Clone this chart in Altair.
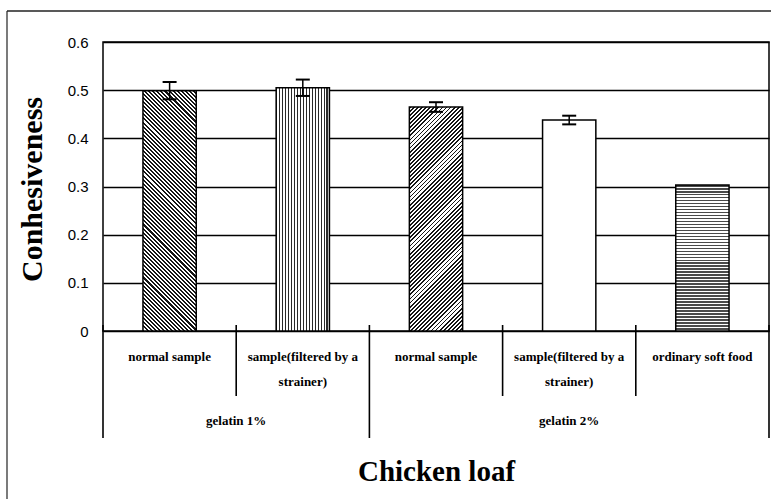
import math
import altair as alt
import pandas as pd

# ---------------- data ----------------
keys = ["g1_normal", "g1_strained", "g2_normal", "g2_strained", "ordinary"]
labels = ["normal sample", "sample(filtered by a|strainer)", "normal sample",
          "sample(filtered by a|strainer)", "ordinary soft food"]
groups = ["gelatin 1%", "gelatin 1%", "gelatin 2%", "gelatin 2%", "gelatin 2%"]
values = [0.499, 0.505, 0.465, 0.438, 0.303]
errors = [0.018, 0.017, 0.010, 0.009, 0.0]
y_ticks = [0, 0.1, 0.2, 0.3, 0.4, 0.5, 0.6]
y_title = "Conhesiveness"
x_title = "Chicken loaf"

# ---------------- layout / style ----------------
W, H = 666, 289
Y_MAX = 0.6
N = len(keys)
BAR_FRAC = 0.4
SERIF = "Liberation Serif"
SANS = "Liberation Sans"

df = pd.DataFrame({"key": keys, "label": labels, "group": groups,
                   "value": values, "err": errors})
df["idx"] = range(N)
df["x0"] = df["idx"] + 0.5 - BAR_FRAC / 2
df["x1"] = df["idx"] + 0.5 + BAR_FRAC / 2
df["xc"] = df["idx"] + 0.5
df["lo"] = df["value"] - df["err"]
df["hi"] = df["value"] + df["err"]
cap_half = 7 / (W / N)
df["c0"] = df["xc"] - cap_half
df["c1"] = df["xc"] + cap_half

# divider positions between categories (long where a new group starts)
bounds = []
for i in range(N):
    kind = "long" if (i == 0 or groups[i] != groups[i - 1]) else "short"
    bounds.append({"pos": i, "kind": kind})
bounds.append({"pos": N, "kind": "long"})
bdf = pd.DataFrame(bounds)

# group label centres
gdf = (df.groupby("group", sort=False)["idx"].agg(["min", "max"]).reset_index())
gdf["gc"] = (gdf["min"] + gdf["max"] + 1) / 2


def stops_for(n, frac, dark, light="#ffffff"):
    st = []
    for i in range(n):
        o0 = round(i / n, 6)
        o1 = round((i + frac) / n, 6)
        o2 = round((i + 1) / n, 6)
        st += [{"offset": o0, "color": dark}, {"offset": o1, "color": dark},
               {"offset": o1, "color": light}, {"offset": o2, "color": light}]
    return st


def diag(w, h, period, frac, direction, dark="#161616"):
    k = (w + h) / (w * w + h * h)
    a, b = k * w, k * h
    n = max(1, round((w + h) / math.sqrt(2) / period))
    if direction == "fwd":
        x1, y1, x2, y2 = 0, 0, a, b
    else:
        x1, y1, x2, y2 = 0, 1, a, 1 - b
    return {"gradient": "linear", "x1": x1, "y1": y1, "x2": x2, "y2": y2,
            "stops": stops_for(n, frac, dark)}


def straight(length, period, frac, vertical_lines, dark="#222222"):
    n = max(1, round(length / period))
    if vertical_lines:
        x1, y1, x2, y2 = 0, 0, 1, 0
    else:
        x1, y1, x2, y2 = 0, 0, 0, 1
    return {"gradient": "linear", "x1": x1, "y1": y1, "x2": x2, "y2": y2,
            "stops": stops_for(n, frac, dark)}


bar_w = BAR_FRAC * W / N
px_h = [v / Y_MAX * H for v in values]
fills = {
    "g1_normal": diag(bar_w, px_h[0], 2.9, 0.5, "back"),
    "g1_strained": straight(bar_w, 3.0, 0.4, True, "#2a2a2a"),
    "g2_normal": diag(bar_w, px_h[2], 2.9, 0.45, "fwd"),
    "g2_strained": "#ffffff",
    "ordinary": straight(px_h[4], 3.0, 0.5, False, "#4a4a4a"),
}

x_axis = alt.Axis(labels=False, ticks=False, domain=False, grid=False,
                  titleFont=SERIF, titleFontSize=29, titleFontWeight="bold",
                  titleColor="black", titleY=149, titleBaseline="alphabetic")
x_scale = alt.Scale(domain=[0, N], nice=False, zero=False)
y_axis = alt.Axis(values=y_ticks, format=".1~f", grid=True, gridColor="black",
                  gridWidth=1.3, gridOpacity=1, ticks=False, domain=False,
                  labelFont=SANS, labelFontSize=15, labelColor="black",
                  labelPadding=15, titleFont=SERIF, titleFontSize=30,
                  titleFontWeight="bold", titleColor="black", titleX=-71,
                  titleY=147, titleAlign="center", titleBaseline="middle",
                  titleAngle=270)
y_scale = alt.Scale(domain=[0, Y_MAX], nice=False, zero=True)


def X(f):
    return alt.X(f"{f}:Q", scale=x_scale, axis=x_axis, title=x_title)


def Y(f):
    return alt.Y(f"{f}:Q", scale=y_scale, axis=y_axis, title=y_title)


base = alt.Chart(df)

bar_layers = []
for k in keys:
    bar_layers.append(
        base.transform_filter(alt.datum.key == k)
        .mark_rect(fill=fills[k], stroke="black", strokeWidth=1.5)
        .encode(x=X("x0"), x2=alt.X2("x1"), y=Y("value"), y2=alt.datum(0))
    )

err_base = base.transform_filter(alt.datum.err > 0)
stems = err_base.mark_rule(color="black", strokeWidth=1.5).encode(
    x=X("xc"), y=Y("lo"), y2=alt.Y2("hi"))
caps_hi = err_base.mark_rule(color="black", strokeWidth=2).encode(
    x=X("c0"), x2=alt.X2("c1"), y=Y("hi"))
caps_lo = err_base.mark_rule(color="black", strokeWidth=2).encode(
    x=X("c0"), x2=alt.X2("c1"), y=Y("lo"))

bch = alt.Chart(bdf)
short_div = bch.transform_filter(alt.datum.kind == "short").mark_rule(
    color="black", strokeWidth=1.6).encode(
    x=X("pos"), y=alt.value(283), y2=alt.value(354))
long_div = bch.transform_filter(alt.datum.kind == "long").mark_rule(
    color="black", strokeWidth=1.6).encode(
    x=X("pos"), y=alt.value(283), y2=alt.value(396))

cat_text = base.mark_text(font=SERIF, fontSize=13, fontWeight="bold",
                          color="black", baseline="alphabetic", lineBreak="|",
                          lineHeight=25).encode(
    x=X("xc"), y=alt.value(319), text="label:N")

grp_text = alt.Chart(gdf).mark_text(font=SERIF, fontSize=13, fontWeight="bold",
                                    color="black", baseline="alphabetic").encode(
    x=X("gc"), y=alt.value(383), text="group:N")

one = alt.Data(values=[{"a": 1}])
frame_top = alt.Chart(one).mark_rule(color="#222222", strokeWidth=1.5).encode(
    x=alt.value(-96), x2=alt.value(668), y=alt.value(-31))
frame_left = alt.Chart(one).mark_rule(color="#222222", strokeWidth=1.2).encode(
    x=alt.value(-96), y=alt.value(-31), y2=alt.value(460))

chart = alt.layer(
    *bar_layers, stems, caps_hi, caps_lo, short_div, long_div,
    cat_text, grp_text, frame_top, frame_left
).properties(
    width=W, height=H,
    autosize=alt.AutoSizeParams(type="none"),
    padding={"left": 103, "top": 42, "right": 2, "bottom": 168},
    background="white",
).configure_view(stroke="black", strokeWidth=1.5)

chart.save("out.html", embed_options={"renderer": "svg", "actions": False})
